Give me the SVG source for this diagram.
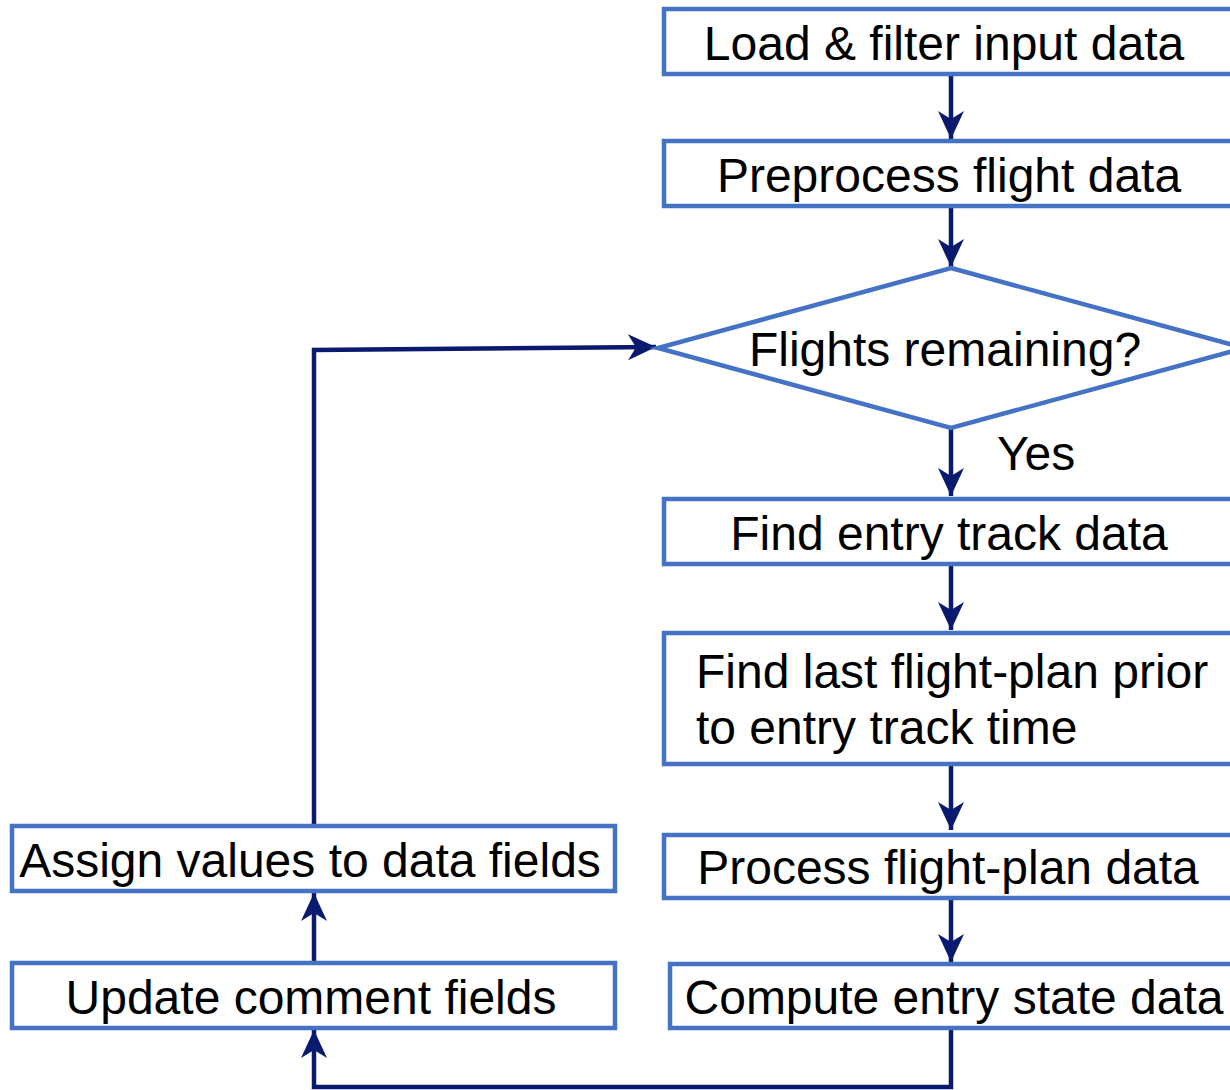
<svg xmlns="http://www.w3.org/2000/svg" width="1230" height="1090" viewBox="0 0 1230 1090">
<style>
.box{fill:#fff;stroke:#4472C4;stroke-width:4.5}
.t{font-family:"Liberation Sans",Arial,sans-serif;font-size:48px;fill:#000}
.c{fill:none;stroke:#0A1A6E;stroke-width:4.5}
</style>
<defs>
<marker id="ah" markerUnits="userSpaceOnUse" markerWidth="30" markerHeight="28" viewBox="0 0 30 28" refX="28" refY="14" orient="auto">
<path d="M0,1 L28,14 L0,27 L8,14 Z" fill="#0A1A6E"/>
</marker>
</defs>
<rect width="1230" height="1090" fill="#fff"/>
<g id="connectors">
<line class="c" x1="951" y1="74" x2="951" y2="139" marker-end="url(#ah)"/>
<line class="c" x1="951" y1="206" x2="951" y2="267" marker-end="url(#ah)"/>
<line class="c" x1="951" y1="428" x2="951" y2="496" marker-end="url(#ah)"/>
<line class="c" x1="951" y1="564" x2="951" y2="630" marker-end="url(#ah)"/>
<line class="c" x1="951" y1="764" x2="951" y2="830" marker-end="url(#ah)"/>
<line class="c" x1="951" y1="898" x2="951" y2="962" marker-end="url(#ah)"/>
<polyline class="c" points="951,1028 951,1087 314,1087 314,1030" marker-end="url(#ah)"/>
<line class="c" x1="314" y1="963" x2="314" y2="893" marker-end="url(#ah)"/>
<polyline class="c" points="314,826 314,350 656,347" marker-end="url(#ah)"/>
<text class="t" x="997" y="470">Yes</text>
</g>
<g id="load"><rect class="box" x="664" y="9" width="580" height="65"/><text class="t" x="944" y="60" text-anchor="middle">Load &amp; filter input data</text></g>
<g id="preprocess"><rect class="box" x="664" y="141" width="580" height="65"/><text class="t" x="949" y="192" text-anchor="middle">Preprocess flight data</text></g>
<g id="decision"><polygon class="box" points="951,268 1244,348 951,428 658,348"/><text class="t" x="945" y="366" text-anchor="middle">Flights remaining?</text></g>
<g id="entrytrack"><rect class="box" x="664" y="499" width="580" height="65"/><text class="t" x="949" y="550" text-anchor="middle">Find entry track data</text></g>
<g id="lastplan"><rect class="box" x="664" y="633" width="580" height="131"/><text class="t" x="696" y="688">Find last flight-plan prior</text><text class="t" x="696" y="744">to entry track time</text></g>
<g id="processplan"><rect class="box" x="664" y="835" width="580" height="63"/><text class="t" x="948" y="884" text-anchor="middle">Process flight-plan data</text></g>
<g id="compute"><rect class="box" x="670" y="964" width="580" height="64"/><text class="t" x="954" y="1014" text-anchor="middle">Compute entry state data</text></g>
<g id="assign"><rect class="box" x="12" y="826" width="603" height="65"/><text class="t" x="310" y="877" text-anchor="middle">Assign values to data fields</text></g>
<g id="update"><rect class="box" x="12" y="963" width="603" height="65"/><text class="t" x="311" y="1014" text-anchor="middle">Update comment fields</text></g>
</svg>
